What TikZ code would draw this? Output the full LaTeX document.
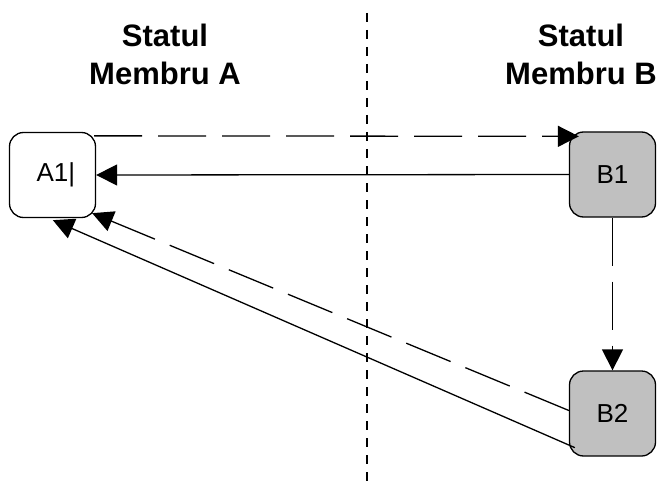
\documentclass[tikz,border=0pt]{standalone}
\usepackage{fontspec}
\setmainfont{Liberation Sans}
\usetikzlibrary{arrows.meta,calc}
\begin{document}
\begin{tikzpicture}[x=1pt,y=-1pt,
  statebox/.style={draw=black,line width=1.3pt,rounded corners=14pt,minimum width=86pt,minimum height=85pt,inner sep=0pt,font=\fontsize{26}{30}\selectfont},
  graybox/.style={statebox,fill={rgb,255:red,192;green,192;blue,192}},
  header/.style={align=center,font=\bfseries\fontsize{31}{38}\selectfont,inner sep=0pt},
  conn/.style={line width=1.3pt,-{Triangle[length=21pt,width=21pt]}},
  longdash/.style={dash pattern=on 48pt off 16pt},
  sep/.style={line width=1.1pt,dash pattern=on 9pt off 8pt}]
\useasboundingbox (0,0) rectangle (661,484);
\fill[white] (0,0) rectangle (661,484);
% headers
\node[header,anchor=base] (hA1) at (165,47) {Statul};
\node[header,anchor=base] (hA2) at (165,85) {Membru A};
\node[header,anchor=base] (hB1) at (581,47) {Statul};
\node[header,anchor=base] (hB2) at (581,85) {Membru B};
% separator
\coordinate (st) at (367,13);
\coordinate (sb) at (367,484);
\draw[sep] (st) -- (sb);
% state boxes
\node[statebox] (A1) at (52.5,175) {A1\rlap{|}};
\node[graybox] (B1) at (612.5,174.5) {B1};
\node[graybox] (B2) at (612.5,413.5) {B2};
% connectors
\draw[conn,longdash] ($(A1.north east)+(-2,4)$) -- ($(B1.north west)+(10,5)$);
\draw[conn] (B1.west) -- (A1.east);
\draw[conn,longdash] (B1.south) -- (B2.north);
\draw[conn,longdash] ($(B2.west)+(0,-3)$) -- ($(A1.south east)+(-4,-5)$);
\draw[conn] ($(B2.south west)+(6,-9)$) -- ($(A1.south west)+(44,2)$);
\end{tikzpicture}
\end{document}
